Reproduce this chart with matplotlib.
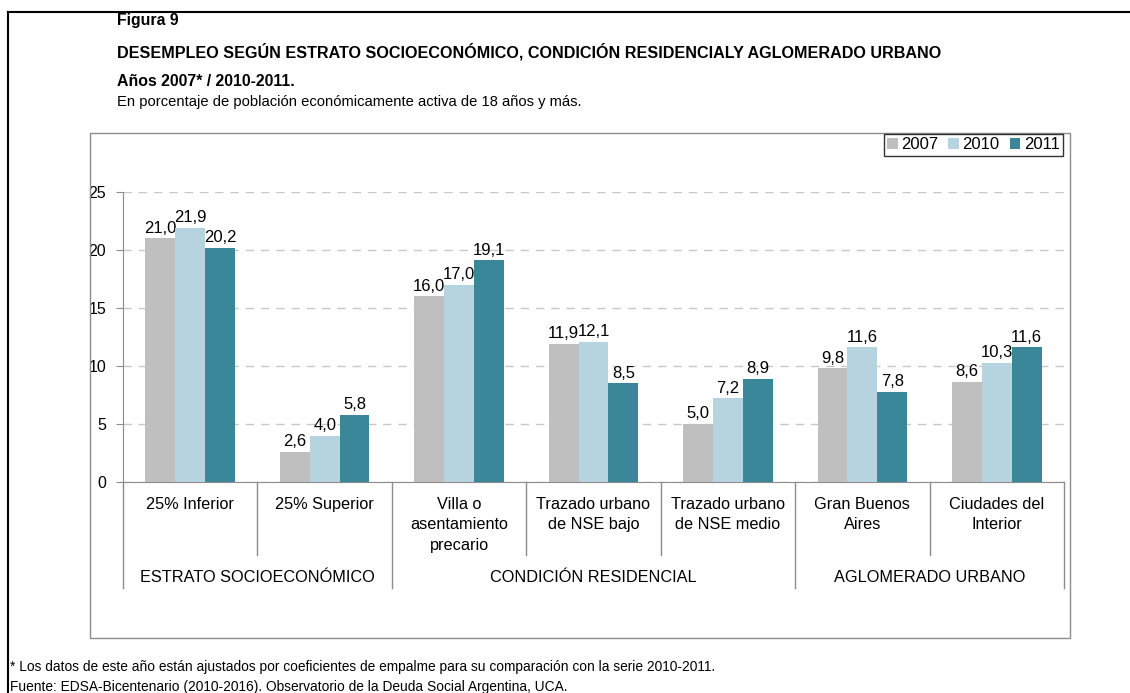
import numpy as np
import matplotlib
matplotlib.use("Agg")
import matplotlib.pyplot as plt
from matplotlib.patches import Patch, Rectangle
from matplotlib.lines import Line2D
import matplotlib.transforms as mtransforms

plt.rcParams["font.family"] = ["Liberation Sans", "DejaVu Sans"]

categories = ["25% Inferior", "25% Superior", "Villa o\nasentamiento\nprecario",
              "Trazado urbano\nde NSE bajo", "Trazado urbano\nde NSE medio",
              "Gran Buenos\nAires", "Ciudades del\nInterior"]
groups = ["ESTRATO SOCIOECONÓMICO", "CONDICIÓN RESIDENCIAL", "AGLOMERADO URBANO"]
group_sizes = [2, 3, 2]
years = ["2007", "2010", "2011"]
v2007 = [21.0, 2.6, 16.0, 11.9, 5.0, 9.8, 8.6]
v2010 = [21.9, 4.0, 17.0, 12.1, 7.2, 11.6, 10.3]
v2011 = [20.2, 5.8, 19.1, 8.5, 8.9, 7.8, 11.6]
colors = ["#BFBFBF", "#B6D4DF", "#3A8799"]

W, H = 1130, 693
fig = plt.figure(figsize=(W / 100, H / 100), dpi=100)

def fx(px):
    return px / W

def fy(py):
    return 1 - py / H

# outer black frame (top and left)
fig.add_artist(Line2D([fx(8), 1.0], [fy(12), fy(12)], color="black", lw=1.5))
fig.add_artist(Line2D([fx(8), fx(8)], [fy(12), 0.0], color="black", lw=1.5))

# inner gray chart frame
fig.add_artist(Rectangle((fx(90), fy(638)), fx(1070) - fx(90), fy(133) - fy(638),
                         fill=False, edgecolor="#8C8C8C", lw=1.0))

# header texts
fig.text(fx(117), fy(25), "Figura 9", fontsize=11.4, fontweight="bold", va="baseline")
fig.text(fx(117), fy(52), "DESEMPLEO SEGÚN ESTRATO SOCIOECONÓMICO, CONDICIÓN RESIDENCIALY AGLOMERADO URBANO",
         fontsize=11.6, fontweight="bold", va="center")
fig.text(fx(117), fy(81), "Años 2007* / 2010-2011.", fontsize=11.4, fontweight="bold", va="center")
fig.text(fx(117), fy(102), "En porcentaje de población económicamente activa de 18 años y más.",
         fontsize=10.6, va="center")

# footnotes
fig.text(fx(10), fy(667), "* Los datos de este año están ajustados por coeficientes de empalme para su comparación con la serie 2010-2011.",
         fontsize=9.9, va="center")
fig.text(fx(10), fy(687), "Fuente: EDSA-Bicentenario (2010-2016). Observatorio de la Deuda Social Argentina, UCA.",
         fontsize=9.9, va="center")

ax = fig.add_axes([fx(123), fy(482), fx(1064) - fx(123), fy(192) - fy(482)])

n = len(categories)
x = np.arange(n)
bw = 0.222
for i, (vals, col) in enumerate(zip([v2007, v2010, v2011], colors)):
    bars = ax.bar(x + (i - 1) * bw, vals, width=bw, color=col, zorder=3)
    ax.bar_label(bars, labels=[f"{v:.1f}".replace(".", ",") for v in vals],
                 padding=2, fontsize=12)

ax.set_xlim(-0.5, n - 0.5)
ax.set_ylim(0, 25)
ax.set_yticks(range(0, 26, 5))
ax.tick_params(axis="y", length=5, color="#8C8C8C", labelsize=11.5, pad=7)
ax.set_xticks([])
ax.yaxis.grid(True, linestyle=(0, (6, 5)), color="#C8C8C8", lw=1.0, zorder=0)
for s in ["top", "right"]:
    ax.spines[s].set_visible(False)
ax.spines["left"].set_color("#8C8C8C")
ax.spines["bottom"].set_color("#8C8C8C")

trans = mtransforms.blended_transform_factory(ax.transData, ax.transAxes)
ax_h = 482 - 192

def ay(py):
    return (482 - py) / ax_h

# category labels and dividers
for i, lab in enumerate(categories):
    ax.text(i, ay(497), lab, transform=trans, ha="center", va="top",
            fontsize=11.7, linespacing=1.45)

bounds = np.cumsum([0] + group_sizes) - 0.5
for b in np.arange(-0.5, n):
    bottom = ay(588) if np.any(np.isclose(bounds, b)) else ay(555)
    ax.plot([b, b], [0, bottom], transform=trans, color="#8C8C8C", lw=1.0, clip_on=False)

for g, (lab, lo, hi) in enumerate(zip(groups, bounds[:-1], bounds[1:])):
    ax.text((lo + hi) / 2, ay(577), lab, transform=trans, ha="center", va="center", fontsize=11.7)

handles = [Patch(facecolor=c, edgecolor="none") for c in colors]
leg = fig.legend(handles, years, loc="upper right", bbox_to_anchor=(fx(1063), fy(134)),
                 ncol=3, fontsize=12, frameon=True, fancybox=False, edgecolor="black",
                 handlelength=0.65, handleheight=0.65, handletextpad=0.2,
                 columnspacing=0.6, borderpad=0.2, borderaxespad=0)
leg.get_frame().set_linewidth(1.0)

fig.savefig("out.png", dpi=100)
